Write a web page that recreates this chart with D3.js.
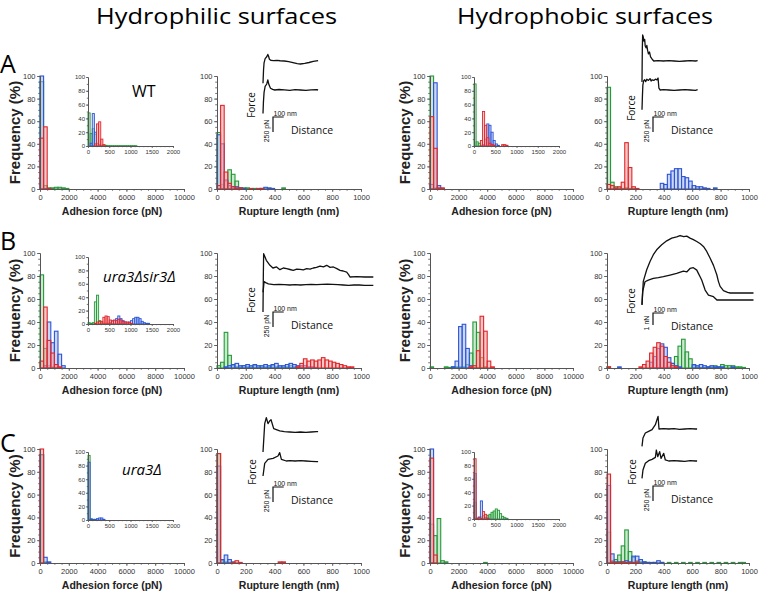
<!DOCTYPE html>
<html>
<head>
<meta charset="utf-8">
<script src="https://cdn.jsdelivr.net/npm/d3@7/dist/d3.min.js"></script>
<style>
body{margin:0;background:#fff;}
svg{display:block;}
</style>
</head>
<body>
<svg id="chart" width="760" height="593"></svg>
<script>
// ---------------- DATA ----------------
const columnTitles = ["Hydrophilic surfaces", "Hydrophobic surfaces"];
const rowLetters = ["A", "B", "C"];
const strainLabels = ["WT", "ura3Δsir3Δ", "ura3Δ"];
const freqTicks = [0, 20, 40, 60, 80, 100];
const adhesionTicks = [0, 2000, 4000, 6000, 8000, 10000];
const insetTicks = [0, 500, 1000, 1500, 2000];
const ruptureTicks = [0, 200, 400, 600, 800, 1000];
const binAdh = 250, binIns = 50, binRup = 25;   // bin widths (pN, pN, nm)

// Row A : WT
const philWT_adh_green = [95, 3, 1, 1, 1.5, 1.5, 1, 0.5];
const philWT_adh_blue  = [100, 0.5];
const philWT_adh_red   = [45, 55, 0.5];
const philWT_ins_green = [48, 18, 25, 17, 4, 2, 1, 1, 1, 0.5, 0.5, 0.5, 0.5, 0.5, 0.5, 0.5, 0.5, 0.5, 0.5, 0.5, 0.5, 0.5, 0.5];
const philWT_ins_blue  = [0, 4, 47, 20, 3, 1];
const philWT_ins_red   = [0, 0, 0, 3, 32, 35, 10, 2];
const philWT_rup_green = [50, 4, 7, 17, 13, 7, 1, 1, 1, 0, 0.5, 0, 0, 0, 0.5, 0, 0, 0, 1];
const philWT_rup_blue  = [48, 40, 8, 3, 2, 2, 1, 0.5, 0, 0, 0, 0, 0.5, 1.5, 1, 0.5];
const philWT_rup_red   = [3, 74, 15, 5, 2, 1, 1, 0, 0, 0.5, 0, 0.5, 0.5];
const phobWT_adh_green = [100, 1];
const phobWT_adh_blue  = [4, 94, 3, 0.5];
const phobWT_adh_red   = [64, 36, 1, 1];
const phobWT_ins_green = [90, 6, 4, 1, 1];
const phobWT_ins_blue  = [0, 0, 0, 0, 2, 10, 32, 30, 20, 8, 3, 1];
const phobWT_ins_red   = [0, 0, 0, 8, 50, 30, 12, 4, 2, 1, 0, 0, 0, 2, 2, 1];
const phobWT_rup_green = [90, 6, 2, 1, 0.5, 1, 0.5, 0.5];
const phobWT_rup_red   = [4, 3, 1, 2, 6, 41, 19, 2, 0.5];
const phobWT_rup_blue  = [0, 0, 0, 0, 0, 0, 0, 0, 0, 0, 0, 0, 0, 0, 0, 5, 4, 13, 16, 18, 18, 11, 10, 7, 3, 2, 2, 1, 0.5, 0, 1];

// Row B : ura3Δsir3Δ
const philSir_adh_green = [81, 17, 2, 1, 0.5];
const philSir_adh_red   = [6, 53, 24, 13, 3, 1];
const philSir_adh_blue  = [0, 2, 40, 22, 32, 12, 2];
const philSir_ins_green = [2, 1, 2, 33, 43, 5, 2, 1, 1, 1, 1, 0.5];
const philSir_ins_red   = [0, 0, 0, 1, 3, 4, 4, 10, 12, 11, 6, 5, 6, 5, 7, 6, 4, 3, 3, 2, 1];
const philSir_ins_blue  = [0, 0, 0, 0, 0, 0, 0, 0, 0, 1, 2, 4, 5, 8, 12, 8, 5, 3, 2, 3, 5, 8, 10, 10, 8, 4, 2, 1, 1];
const philSir_rup_green = [2, 5, 31, 11, 2, 1, 1, 2, 1, 1, 2, 1, 1, 1, 1, 2, 1, 1, 1, 1, 2, 1, 1, 1, 0.5, 0.5, 0.5];
const philSir_rup_blue  = [0, 0, 1, 2, 3, 4, 2, 2, 3, 2, 3, 2, 2, 3, 2, 3, 4, 2, 2, 3, 4, 3, 2, 2, 2, 1, 1, 0.5];
const philSir_rup_red   = [0, 0, 0, 0, 0, 0, 0, 0, 0, 0, 0, 0, 0, 0, 0, 0, 0, 0, 0, 0, 0, 0, 1, 4, 8, 6, 7, 6, 7, 9, 7, 6, 5, 4, 3, 2, 1, 1];
const phobSir_adh_green = [1, 0, 0, 0, 1, 0.5, 1, 1, 1, 1, 3, 13, 40, 31, 9, 1];
const phobSir_adh_blue  = [0, 0, 0, 0, 0, 0, 1, 6, 36, 38, 17, 2];
const phobSir_adh_red   = [0, 0, 0, 0, 0, 0, 0, 0, 0, 0, 0, 1, 2, 15, 45, 32, 6, 1];
const phobSir_rup_red   = [1, 0, 0, 0, 0, 0, 0, 0, 0, 1, 3, 6, 13, 18, 22, 19, 10, 5, 2, 1];
const phobSir_rup_blue  = [0, 0, 0, 1, 0, 0, 0, 0, 0, 0, 0, 0, 5, 10, 17, 21, 18, 9, 4, 2, 1, 0, 0, 0, 3, 2, 3, 2, 1, 2, 1, 1, 1, 0, 0, 1];
const phobSir_rup_green = [1, 0, 0, 0, 0, 0, 0, 0, 0, 0, 0, 0, 0, 0, 0, 0, 0, 1, 4, 10, 19, 25, 14, 8, 2, 1, 0.5, 0.5, 1, 1, 2, 1, 3, 2, 2, 2, 1, 1, 0.5];

// Row C : ura3Δ
const philUra_adh_green = [95, 1];
const philUra_adh_red   = [100];
const philUra_adh_blue  = [95, 5, 1];
const philUra_ins_green = [95, 2];
const philUra_ins_blue  = [85, 1, 1, 1, 2, 3, 3, 1];
const philUra_ins_red   = [];
const philUra_rup_green = [96, 2, 1, 0.5];
const philUra_rup_red   = [96, 0, 0, 0, 0.5, 2, 0.5, 0, 0, 0, 0, 0, 0, 0, 0, 0, 0, 1, 1];
const philUra_rup_blue  = [85, 3, 7, 3, 1];
const phobUra_adh_blue  = [100];
const phobUra_adh_red   = [92, 7];
const phobUra_adh_green = [34, 24, 39, 2, 1, 0, 0, 0, 0, 0, 0, 0, 0, 0, 0, 0.5];
const phobUra_ins_red   = [90, 1, 2, 1, 11, 7, 1];
const phobUra_ins_blue  = [68, 1, 3, 27, 5, 2, 1];
const phobUra_ins_green = [25, 1, 1, 3, 3, 2, 5, 7, 10, 12, 15, 13, 8, 4, 2, 1];
const phobUra_rup_red   = [78, 1, 0.5, 0.5, 1, 0.5, 0.5, 0.5, 1];
const phobUra_rup_blue  = [68, 8, 1, 1, 1, 2, 1, 6, 6, 3, 1, 0.5, 0.5, 0.5, 2, 0.5];
const phobUra_rup_green = [27, 2, 3, 7, 15, 29, 10, 5, 2, 1, 1, 0.5, 0, 0.5, 0, 0.5, 0, 0.5, 0, 0.5, 0, 0.5, 0, 0.5, 0, 0.5, 0, 0.5, 0, 0.5, 0, 0.5, 0, 0.5, 0, 0.5, 0, 0.5, 0.5];

// Force-distance curves: [distance nm, force pN] (force relative to final baseline)
const curveWTphilUpper = [[0,-370],[5,-150],[10,-30],[20,40],[35,70],[45,110],[52,80],[60,30],[75,10],[100,5],[130,10],[160,4],[200,0],[240,-10],[280,-28],[320,-45],[350,-50],[390,-40],[430,-25],[470,-5],[515,8]];
const curveWTphilLower = [[0,-390],[4,-200],[10,-40],[20,60],[35,100],[45,170],[55,90],[70,30],[90,10],[110,0],[150,8],[200,2],[250,-5],[300,5],[350,0],[400,-5],[450,2],[500,5],[515,0]];
const curveWTphobUpper = [[0,-350],[3,200],[6,433],[12,400],[18,330],[25,360],[30,250],[38,220],[45,260],[52,180],[60,120],[70,150],[80,70],[95,30],[110,0],[150,5],[200,0],[250,5],[300,0],[350,-5],[400,0],[450,5],[500,0],[520,5]];
const curveWTphobLower = [[0,-330],[4,-100],[8,80],[15,150],[25,170],[35,140],[45,180],[60,160],[75,190],[85,150],[95,170],[110,160],[125,180],[140,170],[150,200],[158,30],[170,0],[200,5],[250,0],[300,-5],[350,0],[400,5],[450,0],[500,-5],[520,5]];
const curveSirPhilUpper = [[0,-583],[3,0],[6,389],[31,278],[65,195],[93,150],[127,167],[158,122],[190,150],[221,139],[252,125],[283,111],[315,130],[346,128],[377,120],[408,139],[440,130],[470,150],[500,160],[533,183],[565,170],[595,195],[627,160],[658,167],[690,140],[720,111],[750,100],[782,83],[800,40],[813,0],[875,5],[950,0],[1031,0]];
const curveSirPhilLower = [[0,-120],[5,-40],[10,56],[25,40],[50,20],[100,5],[150,10],[200,5],[250,0],[300,5],[350,0],[400,5],[450,10],[500,5],[550,10],[600,15],[650,10],[700,5],[750,0],[800,-5],[850,0],[900,0],[950,-5],[1031,-5]];
const curveSirPhobUpper = [[0,-970],[12,970],[44,1940],[75,2630],[106,3190],[137,3600],[184,4020],[231,4350],[278,4570],[324,4680],[356,4790],[390,4700],[418,4740],[449,4570],[480,4450],[512,4290],[545,4100],[574,3880],[605,3460],[636,2910],[668,2300],[699,1520],[714,970],[730,550],[761,190],[800,50],[824,0],[900,0],[1042,0]];
const curveSirPhobLower = [[0,-415],[6,690],[28,1520],[59,1660],[106,1800],[153,1860],[200,1940],[262,2080],[324,2220],[387,2410],[420,2350],[449,2630],[480,2690],[512,2490],[527,2220],[543,1940],[558,1660],[574,1250],[590,830],[621,415],[668,277],[700,0],[1042,0]];
const curveUraPhilUpper = [[0,-334],[16,139],[31,239],[47,139],[62,183],[75,205],[100,56],[156,17],[200,5],[250,0],[300,-5],[350,0],[400,-5],[450,0],[500,5],[515,5]];
const curveUraPhilLower = [[0,-250],[16,-39],[47,28],[94,44],[140,83],[156,139],[172,28],[218,0],[250,5],[300,0],[350,5],[400,0],[450,-5],[500,-10],[515,-10]];
const curveUraPhobUpper = [[0,-289],[9,-150],[31,-67],[62,-39],[94,-11],[125,72],[140,156],[150,211],[159,0],[203,5],[250,0],[300,5],[350,-5],[400,0],[450,5],[500,0],[515,0]];
const curveUraPhobLower = [[0,-289],[9,-150],[31,-39],[62,6],[94,28],[125,61],[134,183],[147,72],[165,156],[178,44],[203,128],[218,17],[250,0],[300,5],[350,0],[400,-5],[450,5],[500,0],[515,0]];

// ---------------- LAYOUT ----------------
const svg = d3.select("#chart");
const strokeCol = {red: "#e0262b", green: "#25993a", blue: "#2c55d6"};
const fillCol = {red: "#f29a9a", green: "#9fd9a5", blue: "#a3b4f0"};
const SANS = "'Liberation Sans', Arial, sans-serif";
const HUMAN = "'Open Sans', 'Noto Sans', sans-serif";
const fmt = d3.format("d");

const cols = [
  {left: 40, right: 184, xmax: 10000, ticks: adhesionTicks, minor: 500, bin: binAdh, title: "Adhesion force (pN)"},
  {left: 217, right: 361, xmax: 1000, ticks: ruptureTicks, minor: 50, bin: binRup, title: "Rupture length (nm)"},
  {left: 430, right: 573, xmax: 10000, ticks: adhesionTicks, minor: 500, bin: binAdh, title: "Adhesion force (pN)"},
  {left: 607, right: 749, xmax: 1000, ticks: ruptureTicks, minor: 50, bin: binRup, title: "Rupture length (nm)"}
];
const rows = [{top: 76, bottom: 189}, {top: 253, bottom: 368}, {top: 449, bottom: 563}];

const mainPanels = [
  [[philWT_adh_green, philWT_adh_blue, philWT_adh_red], [philWT_rup_green, philWT_rup_blue, philWT_rup_red],
   [phobWT_adh_green, phobWT_adh_blue, phobWT_adh_red], [phobWT_rup_green, phobWT_rup_blue, phobWT_rup_red]],
  [[philSir_adh_green, philSir_adh_blue, philSir_adh_red], [philSir_rup_green, philSir_rup_blue, philSir_rup_red],
   [phobSir_adh_green, phobSir_adh_blue, phobSir_adh_red], [phobSir_rup_green, phobSir_rup_blue, phobSir_rup_red]],
  [[philUra_adh_green, philUra_adh_blue, philUra_adh_red], [philUra_rup_green, philUra_rup_blue, philUra_rup_red],
   [phobUra_adh_green, phobUra_adh_blue, phobUra_adh_red], [phobUra_rup_green, phobUra_rup_blue, phobUra_rup_red]]
];
const seriesColors = ["green", "blue", "red"];

const insets = [
  {left: 88, right: 173, top: 77, bottom: 146, data: [philWT_ins_green, philWT_ins_blue, philWT_ins_red]},
  {left: 474, right: 559, top: 77, bottom: 146, data: [phobWT_ins_green, phobWT_ins_blue, phobWT_ins_red]},
  {left: 88, right: 173, top: 257, bottom: 324, data: [philSir_ins_green, philSir_ins_blue, philSir_ins_red]},
  {left: 88, right: 173, top: 452, bottom: 520, data: [philUra_ins_green, philUra_ins_blue, philUra_ins_red]},
  {left: 474, right: 559, top: 452, bottom: 519, data: [phobUra_ins_green, phobUra_ins_blue, phobUra_ins_red]}
];

function styleAxis(sel, fs) {
  sel.select(".domain").attr("stroke", "#555").attr("stroke-width", 1);
  sel.selectAll(".tick line").attr("stroke", "#555").attr("stroke-width", 0.8);
  sel.selectAll(".tick text").attr("font-family", SANS).attr("font-size", fs).attr("fill", "#333");
}

function histogram(o) {
  const g = svg.append("g");
  const x = d3.scaleLinear().domain([0, o.xmax]).range([o.left, o.right]);
  const y = d3.scaleLinear().domain([0, 100]).range([o.bottom, o.top]);
  o.data.forEach((vals, k) => {
    const c = seriesColors[k];
    g.append("g").selectAll("rect")
      .data(vals.map((v, i) => ({v, i})).filter(d => d.v > 0))
      .join("rect")
      .attr("x", d => x(d.i * o.bin))
      .attr("width", d => x((d.i + 1) * o.bin) - x(d.i * o.bin))
      .attr("y", d => y(d.v))
      .attr("height", d => y(0) - y(d.v))
      .attr("fill", fillCol[c]).attr("fill-opacity", 0.55)
      .attr("stroke", strokeCol[c]).attr("stroke-width", o.sw);
  });
  g.append("g").attr("transform", `translate(${o.left},0)`)
    .call(d3.axisLeft(y).tickValues(d3.range(0, 101, o.yminor)).tickSize(o.tk * 0.6).tickFormat("").tickSizeOuter(0))
    .call(s => styleAxis(s, o.fs));
  g.append("g").attr("transform", `translate(0,${o.bottom})`)
    .call(d3.axisBottom(x).tickValues(d3.range(0, o.xmax + 1, o.minor)).tickSize(o.tk * 0.6).tickFormat("").tickSizeOuter(0))
    .call(s => styleAxis(s, o.fs));
  g.append("g").attr("transform", `translate(${o.left},0)`)
    .call(d3.axisLeft(y).tickValues(freqTicks).tickFormat(fmt).tickSize(o.tk).tickPadding(o.pad).tickSizeOuter(0))
    .call(s => styleAxis(s, o.fs));
  g.append("g").attr("transform", `translate(0,${o.bottom})`)
    .call(d3.axisBottom(x).tickValues(o.ticks).tickFormat(fmt).tickSize(o.tk).tickPadding(o.pad + 1).tickSizeOuter(0))
    .call(s => styleAxis(s, o.fs));
}

rows.forEach((r, ri) => {
  cols.forEach((c, ci) => {
    histogram({left: c.left, right: c.right, top: r.top, bottom: r.bottom, xmax: c.xmax, bin: c.bin,
      ticks: c.ticks, minor: c.minor, yminor: 5, data: mainPanels[ri][ci], sw: 1.1, tk: 3, pad: 1.5, fs: 7.5});
    svg.append("text").attr("x", (c.left + c.right) / 2).attr("y", r.bottom + 26)
      .attr("text-anchor", "middle").attr("font-family", SANS).attr("font-weight", "bold")
      .attr("font-size", 10.5).attr("fill", "#222").text(c.title);
  });
  [20, 410].forEach(bx => {
    svg.append("text").attr("transform", `translate(${bx},${(r.top + r.bottom) / 2}) rotate(-90)`)
      .attr("text-anchor", "middle").attr("font-family", SANS).attr("font-weight", "bold")
      .attr("font-size", 15).attr("fill", "#222").text("Frequency (%)");
  });
});

insets.forEach(ins => {
  histogram({left: ins.left, right: ins.right, top: ins.top, bottom: ins.bottom, xmax: 2000, bin: binIns,
    ticks: insetTicks, minor: 100, yminor: 10, data: ins.data, sw: 0.9, tk: 2, pad: 1, fs: 6});
});

const forceInsets = [
  {x0: 263, bar: [273, 117], unit: 250, pxPerUnit: 15, label: "250 pN", curves: [[curveWTphilUpper, 61], [curveWTphilLower, 90]], force: [255, 105]},
  {x0: 642, bar: [653, 117], unit: 250, pxPerUnit: 15, label: "250 pN", curves: [[curveWTphobUpper, 61], [curveWTphobLower, 90]], force: [635, 108]},
  {x0: 263, bar: [273, 312], unit: 250, pxPerUnit: 15, label: "250 pN", curves: [[curveSirPhilUpper, 277], [curveSirPhilLower, 285]], force: [255, 300]},
  {x0: 642, bar: [653, 313], unit: 1000, pxPerUnit: 12, label: "1 nN", curves: [[curveSirPhobUpper, 293], [curveSirPhobLower, 300]], force: [635, 301]},
  {x0: 263, bar: [273, 487], unit: 250, pxPerUnit: 15, label: "250 pN", curves: [[curveUraPhilUpper, 432], [curveUraPhilLower, 461]], force: [256, 472]},
  {x0: 642, bar: [653, 486], unit: 250, pxPerUnit: 15, label: "250 pN", curves: [[curveUraPhobUpper, 429], [curveUraPhobLower, 461]], force: [636, 472]}
];

forceInsets.forEach(f => {
  const xs = d3.scaleLinear().domain([0, 100]).range([0, 10.7]);
  const ys = d3.scaleLinear().domain([0, f.unit]).range([0, -f.pxPerUnit]);
  const line = d3.line().x(d => xs(d[0])).y(d => ys(d[1]));
  f.curves.forEach(([pts, base]) => {
    svg.append("path").attr("transform", `translate(${f.x0},${base})`)
      .attr("d", line(pts)).attr("fill", "none").attr("stroke", "#111").attr("stroke-width", 1.3)
      .attr("stroke-linejoin", "round");
  });
  const [bx, by] = f.bar;
  const vlen = ys(0) - ys(f.unit), hlen = xs(100) - xs(0);
  svg.append("path").attr("d", `M${bx + hlen},${by}H${bx}V${by + vlen}`)
    .attr("fill", "none").attr("stroke", "#111").attr("stroke-width", 1.2);
  svg.append("text").attr("x", bx + 0.5).attr("y", by - 1.2).attr("font-family", SANS)
    .attr("font-size", 7).attr("fill", "#111").text("100 nm");
  svg.append("text").attr("transform", `translate(${bx - 4},${by + (f.unit === 1000 ? 10 : 14)}) rotate(-90)`)
    .attr("text-anchor", "middle").attr("font-family", SANS).attr("font-size", 7).attr("fill", "#111").text(f.label);
  svg.append("text").attr("x", bx + 18).attr("y", by + 17).attr("font-family", HUMAN)
    .attr("font-size", 10.5).attr("fill", "#111").text("Distance");
  svg.append("text").attr("transform", `translate(${f.force[0]},${f.force[1]}) rotate(-90)`)
    .attr("text-anchor", "middle").attr("font-family", HUMAN).attr("font-size", 10).attr("fill", "#111").text("Force");
});

svg.append("text").attr("x", 96).attr("y", 24).attr("font-family", HUMAN).attr("font-size", 21)
  .attr("textLength", 241).attr("lengthAdjust", "spacingAndGlyphs").attr("fill", "#000").text(columnTitles[0]);
svg.append("text").attr("x", 457).attr("y", 24).attr("font-family", HUMAN).attr("font-size", 21)
  .attr("textLength", 256).attr("lengthAdjust", "spacingAndGlyphs").attr("fill", "#000").text(columnTitles[1]);
[73, 250, 452].forEach((yb, i) => {
  svg.append("text").attr("x", 0).attr("y", yb).attr("font-family", HUMAN).attr("font-size", 25)
    .attr("fill", "#000").text(rowLetters[i]);
});
svg.append("text").attr("x", 132).attr("y", 97).attr("font-family", HUMAN).attr("font-size", 16).attr("fill", "#000").text(strainLabels[0]);
svg.append("text").attr("x", 103).attr("y", 282).attr("font-family", HUMAN).attr("font-style", "italic").attr("font-size", 15).attr("fill", "#000").text(strainLabels[1]);
svg.append("text").attr("x", 122).attr("y", 475).attr("font-family", HUMAN).attr("font-style", "italic").attr("font-size", 15).attr("fill", "#000").text(strainLabels[2]);
</script>
</body>
</html>
